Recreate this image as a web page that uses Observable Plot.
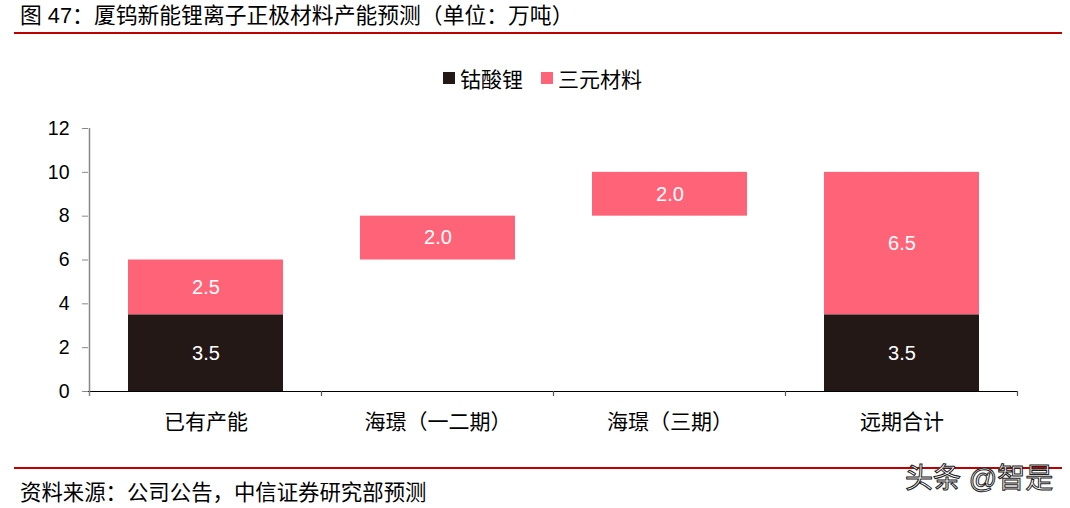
<!DOCTYPE html>
<html><head><meta charset="utf-8">
<script src="https://cdn.jsdelivr.net/npm/d3@7"></script>
<script src="https://cdn.jsdelivr.net/npm/@observablehq/plot@0.6"></script>
<style>
body{margin:0;background:#fff;}
#fig{position:relative;width:1070px;height:508px;font-family:"Liberation Sans","Noto Sans CJK SC",sans-serif;color:#000;overflow:hidden;background:#fff}
#title{position:absolute;left:20px;top:4px;font-size:21.8px;line-height:24px;white-space:nowrap}
.redline{position:absolute;left:14px;width:1048px;height:2px;background:#C00000}
#legend{position:absolute;left:443px;top:66px;height:24px;display:flex;align-items:center;font-size:21px;white-space:nowrap}
#legend .sw{width:12px;height:12px;display:inline-block;margin-right:5px}
#chart{position:absolute;left:0;top:100px}
#source{position:absolute;left:20px;top:481px;font-size:21.4px;line-height:24px;white-space:nowrap}
#wm{position:absolute;left:905px;top:463px;font-size:28px;line-height:32px;color:#fff;-webkit-text-stroke:1px #222;white-space:nowrap}
</style></head><body>
<div id="fig">
<div id="title">图 47：厦钨新能锂离子正极材料产能预测（单位：万吨）</div>
<div class="redline" style="top:32px"></div>
<div id="legend"></div>
<div id="chart"></div>
<div class="redline" style="top:467px"></div>
<div id="source">资料来源：公司公告，中信证券研究部预测</div>
<div id="wm">头条 @智是</div>
</div>
<script>
const categories = ["已有产能", "海璟（一二期）", "海璟（三期）", "远期合计"];
const seriesNames = ["钴酸锂", "三元材料"];
const seriesColors = ["#231816", "#FF6378"];
const lcoValues = [3.5, 0, 0, 3.5];
const ternaryValues = [2.5, 2.0, 2.0, 6.5];
const baseValues = [0, 6, 8, 0];
const yTicks = [0, 2, 4, 6, 8, 10, 12];

// legend
const leg = document.getElementById("legend");
seriesNames.forEach((n, i) => {
  const item = document.createElement("span");
  item.style.display = "inline-flex";
  item.style.alignItems = "center";
  item.style.marginRight = i === 0 ? "18px" : "0";
  item.innerHTML = `<span class="sw" style="background:${seriesColors[i]}"></span>${n}`;
  leg.appendChild(item);
});

const rows = [];
categories.forEach((c, i) => {
  const b = baseValues[i], l = lcoValues[i], t = ternaryValues[i];
  if (l > 0) rows.push({cat: c, series: seriesNames[0], y1: b, y2: b + l, v: l});
  rows.push({cat: c, series: seriesNames[1], y1: b + l, y2: b + l + t, v: t});
});

const padInner = 1 / 3;
const plot = Plot.plot({
  width: 1070,
  height: 350,
  marginTop: 28,
  marginBottom: 59,
  marginLeft: 88,
  marginRight: 52,
  x: {domain: categories, paddingInner: padInner, paddingOuter: padInner / 2, label: null},
  y: {domain: [0, 12], label: null},
  color: {domain: seriesNames, range: seriesColors},
  style: {fontFamily: '"Liberation Sans","Noto Sans CJK SC",sans-serif', color: "#000", background: "transparent", overflow: "visible"},
  marks: [
    Plot.barY(rows, {x: "cat", y1: "y1", y2: "y2", fill: "series"}),
    Plot.ruleY([0], {stroke: "#000", strokeWidth: 1.2}),
    Plot.axisY({ticks: yTicks, tickSize: 6, tickPadding: 13, stroke: "#888", fontSize: 19.5, tickFormat: d => String(d)}),
    Plot.axisX({tickSize: 0, tickPadding: 23, fontSize: 21}),
    Plot.text(rows, {x: "cat", y: d => (d.y1 + d.y2) / 2, text: d => d.v.toFixed(1), fill: "#fff", fontSize: 20})
  ]
});
document.getElementById("chart").appendChild(plot);

// axis line and category boundary ticks, from the plot's scales
const xs = plot.scale("x"), ys = plot.scale("y");
const svg = d3.select(plot);
const gap = (xs.step - xs.bandwidth) / 2;
const bounds = categories.map(c => xs.apply(c) - gap);
bounds.push(xs.apply(categories[categories.length - 1]) + xs.bandwidth + gap);
const y0 = ys.apply(0), yTop = ys.apply(12);
svg.append("line").attr("x1", bounds[0]).attr("x2", bounds[0]).attr("y1", yTop).attr("y2", y0 + 5)
  .attr("stroke", "#888").attr("stroke-width", 1.5);
bounds.slice(1).forEach(bx => {
  svg.append("line").attr("x1", bx).attr("x2", bx).attr("y1", y0).attr("y2", y0 + 5)
    .attr("stroke", "#555").attr("stroke-width", 1.2);
});
</script>
</body></html>
